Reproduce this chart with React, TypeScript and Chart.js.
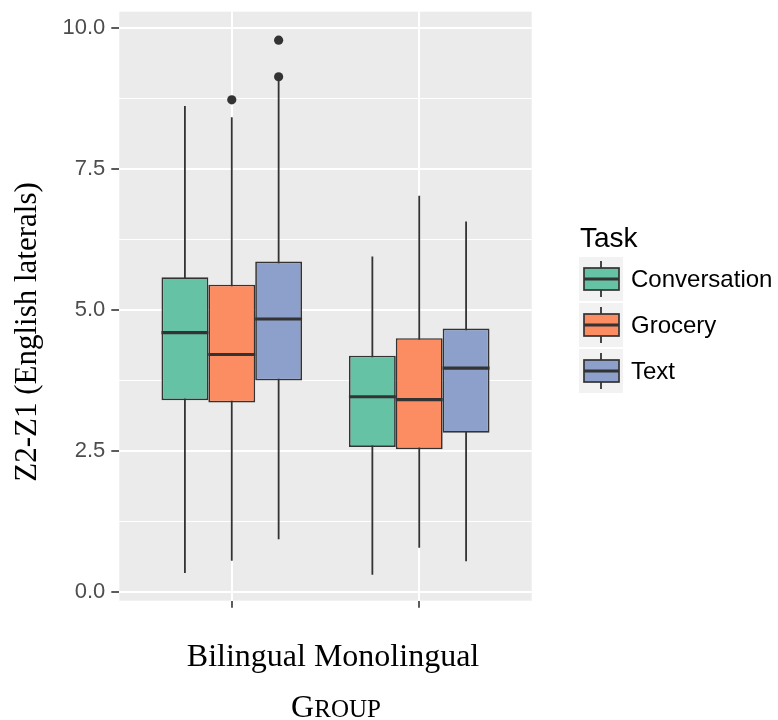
import React, { useEffect, useRef } from 'react';
import { Chart, registerables } from 'chart.js';

Chart.register(...registerables);

// ---- data ----
const groups = ['Bilingual', 'Monolingual'];
const groupPositions = [1, 2];
const tasks = ['Conversation', 'Grocery', 'Text'];
const taskColors = ['#66C2A5', '#FC8D62', '#8DA0CB'];
// per task: [Bilingual, Monolingual]
const whiskerLow = [[0.33, 0.3], [0.55, 0.78], [0.93, 0.54]];
const q1 = [[3.4, 2.57], [3.36, 2.53], [3.75, 2.82]];
const median = [[4.6, 3.46], [4.21, 3.41], [4.84, 3.97]];
const q3 = [[5.58, 4.19], [5.45, 4.5], [5.86, 4.67]];
const whiskerHigh = [[8.62, 5.95], [8.42, 7.03], [9.12, 6.57]];
const outliers = [[[], []], [[8.73], []], [[9.79, 9.14], []]];
const yTicks = [0, 1.25, 2.5, 3.75, 5, 6.25, 7.5, 8.75, 10];
const yTickLabels = ['0.0', '', '2.5', '', '5.0', '', '7.5', '', '10.0'];
const yTitle = 'Z2-Z1 (English laterals)';
const xCaption = groups.join(' ');
const xTitleFirst = 'G';
const xTitleRest = 'ROUP';
const legendTitle = 'Task';

const isMajor = (v: number) => {
  const i = yTicks.indexOf(v);
  return i >= 0 && yTickLabels[i] !== '';
};

const boxPlugin = {
  id: 'boxExtras',
  beforeDraw(chart: any) {
    const { ctx, chartArea: a } = chart;
    ctx.save();
    ctx.fillStyle = '#EBEBEB';
    ctx.fillRect(a.left, a.top, a.right - a.left, a.bottom - a.top);
    ctx.restore();
  },
  beforeDatasetsDraw(chart: any) {
    const { ctx } = chart;
    const ys = chart.scales.y;
    ctx.save();
    ctx.strokeStyle = '#333333';
    ctx.lineWidth = 1.8;
    tasks.forEach((_, i) => {
      const meta = chart.getDatasetMeta(i);
      meta.data.forEach((bar: any, j: number) => {
        ctx.beginPath();
        ctx.moveTo(bar.x, ys.getPixelForValue(whiskerLow[i][j]));
        ctx.lineTo(bar.x, ys.getPixelForValue(whiskerHigh[i][j]));
        ctx.stroke();
      });
    });
    ctx.restore();
  },
  afterDatasetsDraw(chart: any) {
    const { ctx } = chart;
    const ys = chart.scales.y;
    ctx.save();
    tasks.forEach((_, i) => {
      const meta = chart.getDatasetMeta(i);
      meta.data.forEach((bar: any, j: number) => {
        const half = bar.width / 2;
        const my = ys.getPixelForValue(median[i][j]);
        ctx.strokeStyle = '#333333';
        ctx.lineWidth = 3.2;
        ctx.beginPath();
        ctx.moveTo(bar.x - half, my);
        ctx.lineTo(bar.x + half, my);
        ctx.stroke();
        ctx.fillStyle = '#333333';
        outliers[i][j].forEach((v) => {
          ctx.beginPath();
          ctx.arc(bar.x, ys.getPixelForValue(v), 4.6, 0, Math.PI * 2);
          ctx.fill();
        });
      });
    });
    ctx.restore();
  },
  afterDraw(chart: any) {
    const { ctx } = chart;
    ctx.save();
    // y title
    ctx.save();
    ctx.translate(36, 332);
    ctx.rotate(-Math.PI / 2);
    ctx.fillStyle = '#000000';
    ctx.font = '31px "Liberation Serif"';
    ctx.textAlign = 'center';
    ctx.textBaseline = 'alphabetic';
    ctx.fillText(yTitle, 0, 0);
    ctx.restore();

    // x caption
    ctx.fillStyle = '#000000';
    ctx.font = '32px "Liberation Serif"';
    ctx.textAlign = 'center';
    ctx.textBaseline = 'alphabetic';
    ctx.fillText(xCaption, 333, 666);

    // GROUP small caps
    ctx.textAlign = 'left';
    ctx.font = '32px "Liberation Serif"';
    const w1 = ctx.measureText(xTitleFirst).width;
    ctx.font = '25px "Liberation Serif"';
    const w2 = ctx.measureText(xTitleRest).width;
    const sx = 336 - (w1 + w2) / 2;
    ctx.font = '32px "Liberation Serif"';
    ctx.fillText(xTitleFirst, sx, 717);
    ctx.font = '25px "Liberation Serif"';
    ctx.fillText(xTitleRest, sx + w1, 717);

    // legend
    ctx.font = '28px "Liberation Sans"';
    ctx.fillStyle = '#000000';
    ctx.fillText(legendTitle, 580, 247);
    tasks.forEach((task, i) => {
      const ky = 257 + i * 46;
      const kx = 579;
      ctx.fillStyle = '#F2F2F2';
      ctx.fillRect(kx, ky, 44, 44);
      ctx.strokeStyle = '#333333';
      ctx.lineWidth = 1.8;
      ctx.beginPath();
      ctx.moveTo(kx + 22, ky + 4);
      ctx.lineTo(kx + 22, ky + 40);
      ctx.stroke();
      ctx.fillStyle = taskColors[i];
      ctx.fillRect(kx + 5, ky + 11, 35, 22);
      ctx.lineWidth = 1.7;
      ctx.strokeRect(kx + 5, ky + 11, 35, 22);
      ctx.lineWidth = 3;
      ctx.beginPath();
      ctx.moveTo(kx + 5, ky + 22);
      ctx.lineTo(kx + 40, ky + 22);
      ctx.stroke();
      ctx.fillStyle = '#000000';
      ctx.font = '24px "Liberation Sans"';
      ctx.textBaseline = 'middle';
      ctx.fillText(task, 631, ky + 23);
      ctx.textBaseline = 'alphabetic';
    });
    ctx.restore();
  },
};

export default function App() {
  const ref = useRef<HTMLCanvasElement | null>(null);
  useEffect(() => {
    document.body.style.margin = '0';
    const canvas = ref.current;
    if (!canvas) return;
    const zeroPad = (s: any) => {
      s.paddingLeft = 0;
      s.paddingRight = 0;
      s.paddingTop = 0;
      s.paddingBottom = 0;
    };
    const chart = new Chart(canvas, {
      type: 'bar',
      data: {
        datasets: tasks.map((task, i) => ({
          label: task,
          data: groupPositions.map((x, j) => ({ x, y: [q1[i][j], q3[i][j]] })),
          backgroundColor: taskColors[i],
          borderColor: '#333333',
          borderWidth: 1.7,
          borderSkipped: false,
          inflateAmount: 0,
          categoryPercentage: 0.75,
          barPercentage: 1.0,
        })) as any,
      },
      options: {
        responsive: false,
        animation: false,
        devicePixelRatio: 1,
        layout: { padding: { left: 0, top: 11.7, right: 246.3, bottom: 0 } },
        plugins: {
          legend: { display: false },
          tooltip: { enabled: false },
        },
        scales: {
          x: {
            type: 'linear',
            offset: false,
            min: 0.4,
            max: 2.6,
            afterBuildTicks: (s: any) => {
              s.ticks = groupPositions.map((v) => ({ value: v }));
            },
            afterFit: (s: any) => {
              s.height = 119.3;
              zeroPad(s);
            },
            ticks: { callback: () => '', autoSkip: false, maxRotation: 0 },
            grid: {
              offset: false,
              color: '#FFFFFF',
              lineWidth: 2,
              tickColor: '#333333',
              tickLength: 7,
              tickWidth: 1.6,
            },
            border: { display: false },
          },
          y: {
            type: 'linear',
            min: -0.16,
            max: 10.295,
            afterBuildTicks: (s: any) => {
              s.ticks = yTicks.map((v) => ({ value: v }));
            },
            afterFit: (s: any) => {
              s.width = 119.3;
              zeroPad(s);
            },
            ticks: {
              autoSkip: false,
              callback: (v: any) => yTickLabels[yTicks.indexOf(Number(v))] ?? '',
              color: '#4D4D4D',
              font: { family: 'Liberation Sans', size: 22 },
              padding: 6,
            },
            grid: {
              color: '#FFFFFF',
              lineWidth: (c: any) => (isMajor(c.tick?.value) ? 2 : 1),
              tickColor: (c: any) => (isMajor(c.tick?.value) ? '#333333' : 'rgba(0,0,0,0)'),
              tickLength: 8,
              tickWidth: 1.6,
            },
            border: { display: false },
          },
        },
      } as any,
      plugins: [boxPlugin],
    });
    return () => chart.destroy();
  }, []);
  return <canvas ref={ref} width={778} height={720} style={{ display: 'block' }} />;
}
